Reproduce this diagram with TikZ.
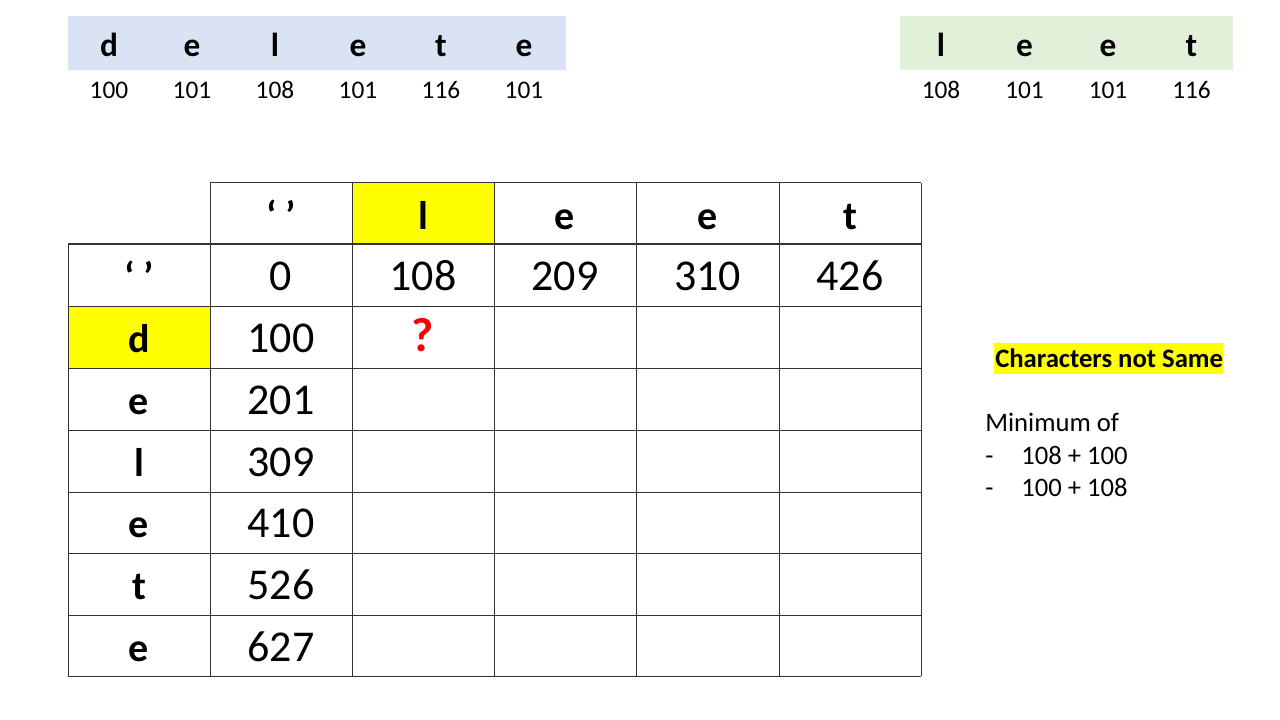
\documentclass[tikz,border=0pt]{standalone}
\usepackage{fontspec}
\setmainfont{Carlito}
\definecolor{boxblue}{HTML}{DAE3F3}
\definecolor{boxgreen}{HTML}{E2F0D9}
\definecolor{hiyellow}{HTML}{FFFF00}
\definecolor{gridline}{HTML}{333333}
\tikzset{
  toplet/.style={font=\fontsize{25}{30}\selectfont\bfseries, anchor=base, inner sep=0pt},
  topnum/.style={font=\fontsize{19}{23}\selectfont, anchor=base, inner sep=0pt},
  tlet/.style={font=\fontsize{30}{36}\selectfont\bfseries, anchor=base, inner sep=0pt},
  tnum/.style={font=\fontsize{33}{40}\selectfont, anchor=base, inner sep=0pt},
  qmark/.style={font=\fontsize{36}{43}\selectfont\bfseries, text=red, anchor=base, inner sep=0pt},
  notetxt/.style={font=\fontsize{20}{24}\selectfont, anchor=base west, inner sep=0pt},
  gridln/.style={draw=gridline, line width=0.75pt},
}
\begin{document}
\begin{tikzpicture}[x=0.75pt, y=-0.75pt]
\useasboundingbox (0,0) rectangle (1280,720);
\fill[white] (0,0) rectangle (1280,720);

% top word boxes
\fill[boxblue] (68,16) rectangle (566,70);
\fill[boxgreen] (900,16) rectangle (1233,70);

\foreach \i/\x/\c/\n in {1/109/d/100, 2/192/e/101, 3/275/l/108, 4/358/e/101, 5/441/t/116, 6/524/e/101} {
  \node[toplet] (w1l\i) at (\x,57) {\c};
  \node[topnum] (w1n\i) at (\x,99) {\n};
}
\foreach \i/\x/\c/\n in {1/941/l/108, 2/1024.5/e/101, 3/1108/e/101, 4/1191.5/t/116} {
  \node[toplet] (w2l\i) at (\x,57) {\c};
  \node[topnum] (w2n\i) at (\x,99) {\n};
}

% highlighted cells
\fill[hiyellow] (352,183) rectangle (494,244);
\fill[hiyellow] (68,306) rectangle (210,368);

% grid
\draw[gridln] (210,183) -- (921,183);
\foreach \y in {244,306,368,430,492,553,615,676} \draw[gridln] (68,\y) -- (921,\y);
\draw[gridln] (68,244) -- (68,676);
\foreach \x in {210,352,494,636,779,921} \draw[gridln] (\x,183) -- (\x,676);

% header row
\node[tlet] (hq) at (281,229) {‘ ’};
\node[tlet] (hl) at (423,229) {l};
\node[tlet] (he1) at (565,229) {e};
\node[tlet] (he2) at (707.5,229) {e};
\node[tlet] (ht) at (850,229) {t};

% first data row
\node[tlet] (rq) at (139,290) {‘ ’};
\node[tnum] (v00) at (281,290) {0};
\node[tnum] (v01) at (423,290) {108};
\node[tnum] (v02) at (565,290) {209};
\node[tnum] (v03) at (707.5,290) {310};
\node[tnum] (v04) at (850,290) {426};

% row labels and first column
\foreach \i/\y/\c/\n in {1/352/d/100, 2/414/e/201, 3/476/l/309, 4/537/e/410, 5/599/t/526, 6/661/e/627} {
  \node[tlet] (rl\i) at (139,\y) {\c};
  \node[tnum] (v\i0) at (281,\y) {\n};
}

\node[qmark] (q11) at (423,351) {?};

% note on the right
\fill[hiyellow] (994,342.5) rectangle (1223,374);
\node[notetxt, font=\fontsize{20}{24}\selectfont\bfseries] (ntitle) at (995,367) {Characters not Same};
\node[notetxt] (nmin) at (985,431) {Minimum of};
\node[notetxt] (nd1) at (985,464) {-};
\node[notetxt] (nv1) at (1021,464) {108 + 100};
\node[notetxt] (nd2) at (985,496) {-};
\node[notetxt] (nv2) at (1021,496) {100 + 108};
\end{tikzpicture}
\end{document}
